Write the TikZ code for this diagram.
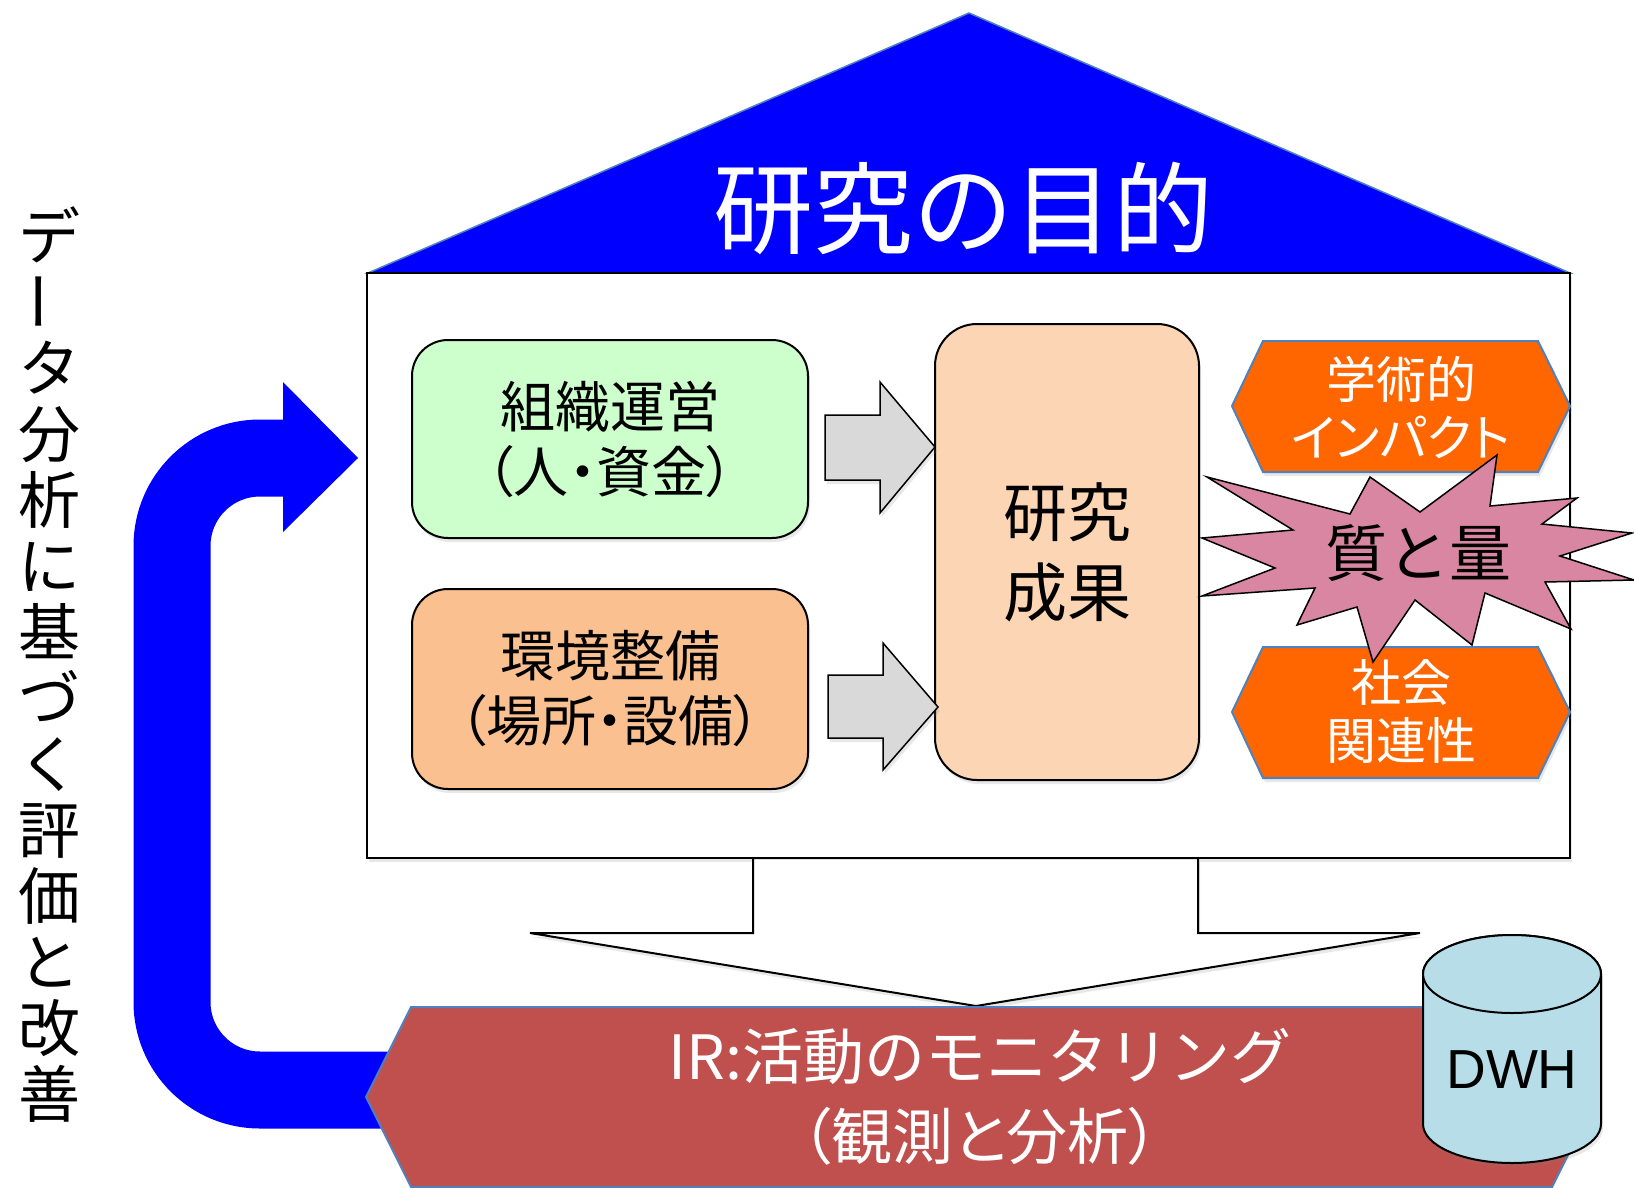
\documentclass[tikz,border=0pt]{standalone}
\usepackage{fontspec}
\newfontfamily\jp{Noto Sans CJK JP}
\newfontfamily\jpp[RawFeature=+palt]{Noto Sans CJK JP}
\newfontfamily\lsans{Liberation Sans}
\usetikzlibrary{shadows}
\definecolor{roofblue}{HTML}{0000FF}
\definecolor{edgeblue}{HTML}{4F81BD}
\definecolor{orggreen}{HTML}{CCFFCC}
\definecolor{envorange}{HTML}{FAC090}
\definecolor{respeach}{HTML}{FCD5B5}
\definecolor{arrowgray}{HTML}{D9D9D9}
\definecolor{hexorange}{HTML}{FF6600}
\definecolor{burstpink}{HTML}{D886A2}
\definecolor{irred}{HTML}{C0504D}
\definecolor{dwhblue}{HTML}{B7DEE8}
\begin{document}
\begin{tikzpicture}[x=1pt,y=-1pt,
  softshadow/.style={drop shadow={shadow xshift=2pt,shadow yshift=-4pt,opacity=0.18}},
  rbox/.style={draw=black,line width=2pt,rounded corners=36pt,align=center,inner sep=0pt,softshadow,
    font=\jp\fontsize{55}{65}\selectfont},
  garrow/.style={draw=black,line width=1.5pt,fill=arrowgray,softshadow},
  hexshape/.style={draw=edgeblue,line width=2pt,fill=hexorange,softshadow},
  hextext/.style={text=white,align=center,inner sep=0pt,font=\jp\fontsize{50}{58}\selectfont},
  burst/.style={draw=black,line width=1.5pt,fill=burstpink},
  bigarrow/.style={draw=black,line width=2pt,fill=white,softshadow},
  irshape/.style={draw=edgeblue,line width=2pt,fill=irred},
  cyl/.style={draw=black,line width=2pt,fill=dwhblue},
  loopline/.style={draw=roofblue,line width=77pt,rounded corners=88pt}]
\useasboundingbox (0,0) rectangle (1634,1187);

% roof
\path[draw=edgeblue,line width=1.5pt,fill=roofblue] (969,13) -- (1570,273) -- (368,273) -- cycle;
\node[text=white,inner sep=0pt,font=\jp\fontsize{100}{110}\selectfont] (title) at (963,208) {研究の目的};

% frame
\node[draw=black,line width=2pt,fill=white,minimum width=1203pt,minimum height=585pt,inner sep=0pt,softshadow] (frame) at (968.5,565.5) {};

% left boxes
\node[rbox,fill=orggreen,minimum width=396pt,minimum height=198pt] (org) at (610,439) {組織運営\\{\jpp （人・資金）}};
\node[rbox,fill=envorange,minimum width=396pt,minimum height=200pt] (env) at (610,689) {環境整備\\{\jpp （場所・設備）}};

% research results
\node[rbox,fill=respeach,rounded corners=42pt,minimum width=264pt,minimum height=456pt,
  font=\jp\fontsize{64}{80}\selectfont] (res) at (1067,552) {研究\\成果};

% gray block arrows
\path[garrow] (825,415) -- (880,415) -- (880,382) -- (935,447) -- (880,513) -- (880,480) -- (825,480) -- cycle;
\path[garrow] (828,675) -- (883,675) -- (883,643) -- (938,707) -- (883,770) -- (883,738) -- (828,738) -- cycle;

% hexagons
\path[hexshape] (1232,406) -- (1263,341) -- (1538,341) -- (1570,406) -- (1538,472) -- (1263,472) -- cycle;
\node[hextext] (acad) at (1401,407) {学術的\\{\jpp インパクト}};
\path[hexshape] (1232,712) -- (1263,647) -- (1538,647) -- (1570,712) -- (1538,778) -- (1263,778) -- cycle;
\node[hextext] (soc) at (1401,712) {社会\\関連性};

% starburst
\path[burst] (1202,538) -- (1293,530) -- (1207,477) -- (1350,514) -- (1370,477) -- (1420,512)
  -- (1497,455) -- (1490,506) -- (1577,498) -- (1542,524) -- (1632,533) -- (1560,556)
  -- (1634,580) -- (1545,582) -- (1571,629) -- (1485,593) -- (1472,645) -- (1415,600)
  -- (1373,662) -- (1357,607) -- (1297,625) -- (1315,588) -- (1202,596) -- (1275,568) -- cycle;
\node[inner sep=0pt,font=\jp\fontsize{62}{70}\selectfont] (qq) at (1418,553) {質と量};

% big down arrow
\path[bigarrow] (753,858) -- (753,933) -- (530,933) -- (976,1006) -- (1420,933) -- (1198,933) -- (1198,858) -- cycle;

% feedback loop arrow
\coordinate (fbstart) at (420,1090);
\coordinate (fbend) at (284,458);
\draw[loopline] (fbstart) -- (172,1090) -- (172,458) -- (fbend);
\fill[roofblue] (283,382) -- (358,458) -- (283,532) -- cycle;

% IR
\path[irshape] (366,1097) -- (411,1007) -- (1552,1007) -- (1597,1097) -- (1552,1187) -- (411,1187) -- cycle;
\node[text=white,align=center,inner sep=0pt,font=\jp\fontsize{61}{80}\selectfont] (ir) at (980,1097)
  {IR:活動のモニタリング\\{\jpp （観測と分析）}};

% DWH cylinder
\path[cyl,softshadow] (1423,974) -- (1423,1124) arc[start angle=180,end angle=0,x radius=89,y radius=39]
  -- (1601,974) arc[start angle=360,end angle=180,x radius=89,y radius=39] -- cycle;
\draw[cyl] (1512,974) ellipse[x radius=89,y radius=39];
\node[inner sep=0pt,font=\lsans\fontsize{55}{60}\selectfont] (dwh) at (1512,1070) {DWH};

% vertical text
\node[align=center,inner sep=0pt,font=\jp\fontsize{62}{66}\selectfont] (vtext) at (49,665)
  {デ\\\raisebox{0.17em}{\rotatebox[origin=c]{90}{ー}}\\タ\\分\\析\\に\\基\\づ\\く\\評\\価\\と\\改\\善};
\end{tikzpicture}
\end{document}
